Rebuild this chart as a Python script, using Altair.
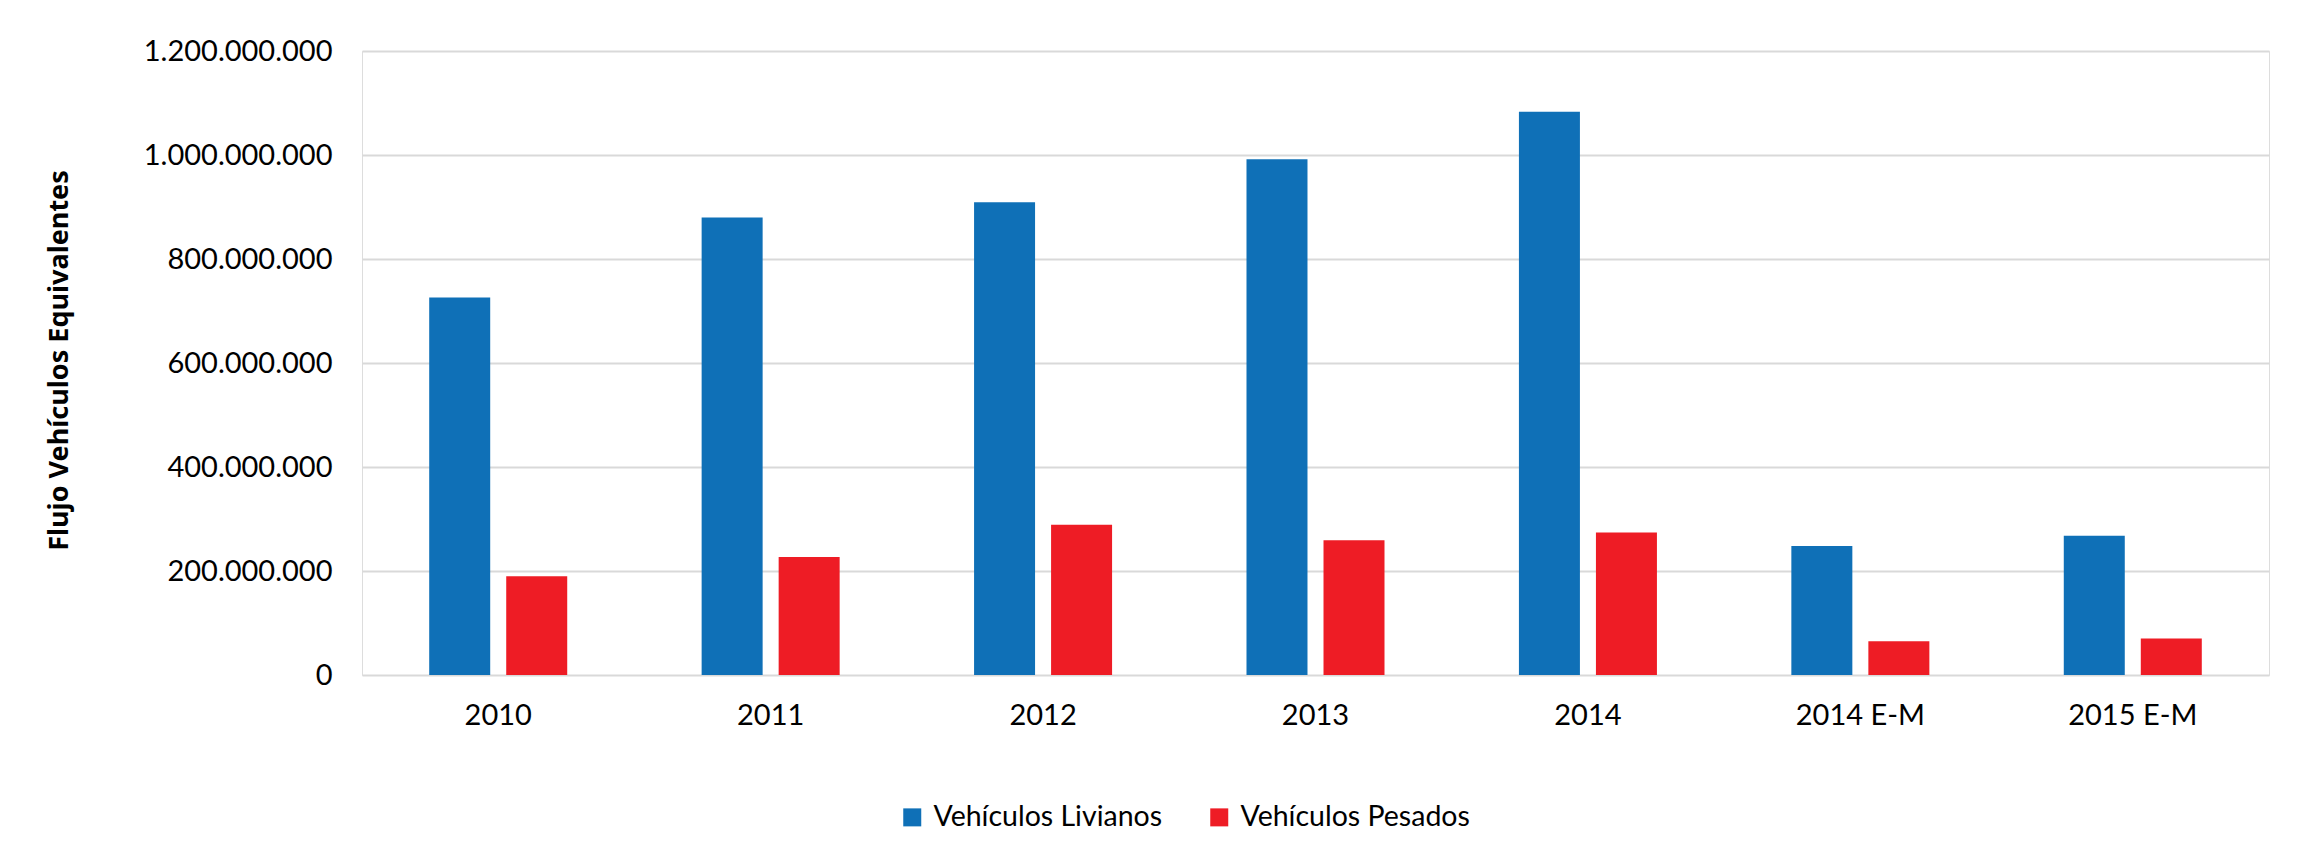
import altair as alt
import pandas as pd

years = ["2010", "2011", "2012", "2013", "2014", "2014 E-M", "2015 E-M"]
livianos = [726e6, 880e6, 909e6, 992e6, 1083e6, 248e6, 268e6]
pesados = [190e6, 227e6, 289e6, 259e6, 274e6, 65e6, 70e6]
series_names = ["Vehículos Livianos", "Vehículos Pesados"]
series_colors = ["#0f70b7", "#ee1c25"]
y_ticks = [0, 200e6, 400e6, 600e6, 800e6, 1000e6, 1200e6]

rows = []
for i, yr in enumerate(years):
    rows.append({"year": yr, "serie": series_names[0], "value": livianos[i]})
    rows.append({"year": yr, "serie": series_names[1], "value": pesados[i]})
df = pd.DataFrame(rows)

W, H = 1907, 624

chart = alt.Chart(df).mark_bar().encode(
    x=alt.X("year:N", sort=years,
            scale=alt.Scale(paddingInner=0.4934, paddingOuter=0.2467),
            axis=alt.Axis(title=None, labelAngle=0, domain=False, ticks=False,
                          labelFont="Lato", labelFontSize=29, labelColor="#000000",
                          labelPadding=26, labelLimit=0)),
    xOffset=alt.XOffset("serie:N", sort=series_names,
                        scale=alt.Scale(paddingInner=0.208, paddingOuter=0)),
    y=alt.Y("value:Q",
            scale=alt.Scale(domain=[0, 1.2e9], nice=False),
            axis=alt.Axis(title="Flujo Vehículos Equivalentes", values=y_ticks,
                          labelExpr="replace(format(datum.value, ',d'), regexp(',', 'g'), '.')",
                          domain=False, ticks=False, grid=True,
                          gridColor="#d9d9d9", gridWidth=2,
                          labelFont="Lato", labelFontSize=29, labelColor="#000000",
                          labelPadding=30, labelLimit=0,
                          titleFont="Noto Sans", titleFontSize=27, titleFontWeight="bold",
                          titleColor="#000000", titleAngle=-90,
                          titleX=-303, titleY=309, titleAlign="center",
                          titleBaseline="middle", titleLimit=0)),
    color=alt.Color("serie:N", sort=series_names,
                    scale=alt.Scale(domain=series_names, range=series_colors),
                    legend=alt.Legend(title=None, orient="none", direction="horizontal",
                                      legendX=536, legendY=752,
                                      symbolType="square", symbolSize=324,
                                      symbolStrokeWidth=0, labelOffset=7,
                                      columnPadding=42, padding=0, labelLimit=0,
                                      labelFont="Lato", labelFontSize=28.5,
                                      labelColor="#000000")),
).properties(
    width=W, height=H,
    padding={"left": 354, "top": 43, "right": 40, "bottom": 160},
    autosize=alt.AutoSizeParams(type="none"),
).configure_view(
    stroke="#d9d9d9", strokeWidth=2
).configure(background="#ffffff")

chart.save("out.html", embed_options={"renderer": "svg", "actions": False})
